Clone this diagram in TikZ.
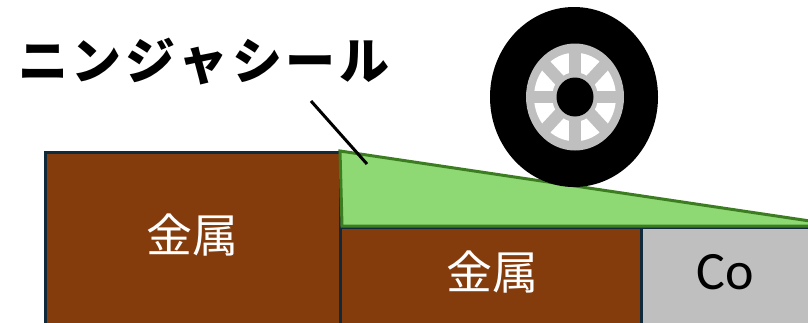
\documentclass[tikz,border=0pt]{standalone}
\usepackage{fontspec}
\newfontfamily\jpfont{Noto Sans CJK JP}
\newfontfamily\cofont{Carlito}
\definecolor{metal}{HTML}{843C0C}
\definecolor{edgenavy}{HTML}{10293B}
\definecolor{sealfill}{HTML}{8ED973}
\definecolor{sealedge}{HTML}{3C7D22}
\definecolor{cobalt}{HTML}{BFBFBF}
\definecolor{rim}{HTML}{BFBFBF}
\tikzset{
  block/.style={draw=edgenavy, line width=3pt},
  metalbox/.style={block, fill=metal},
  lbl/.style={text=white, font=\jpfont\fontsize{46}{50}\selectfont, inner sep=0pt},
  leader/.style={draw=black, line width=3pt},
}
\begin{document}
\begin{tikzpicture}[x=1pt,y=-1pt]
  \useasboundingbox (0,0) rectangle (808,322);

  % base blocks
  \draw[metalbox] (45,152) rectangle (340,340);
  \draw[metalbox] (340,227) rectangle (641,340);
  \draw[block, fill=cobalt] (641,227) rectangle (830,340);

  % block labels
  \node[lbl] (m1) at (192,235) {金属};
  \node[lbl] (m2) at (492,272) {金属};
  \node[inner sep=0pt, font=\cofont\fontsize{54}{58}\selectfont] (co) at (725,272) {Co};

  % ninja seal wedge
  \draw[fill=sealfill, draw=sealedge, line width=3pt, line join=miter]
    (340,151) -- (810,221) -- (810,226) -- (342,226) -- cycle;

  % wheel
  \fill[black] (574,97) ellipse [x radius=84, y radius=90];
  \fill[rim] (575,97) ellipse [x radius=49, y radius=53.5];
  \begin{scope}[shift={(575,97)}, yscale=1.08]
    \fill[white, even odd rule] (0,0) circle [radius=41] (0,0) circle [radius=23];
    \foreach \a in {0,45,...,315}
      \draw[rim, line width=12pt] (0,0) -- (\a:45);
  \end{scope}
  \fill[black] (575,97) ellipse [x radius=18.5, y radius=19.5];

  % title and leader line
  \node[inner sep=0pt, anchor=west, font=\jpfont\bfseries\fontsize{50}{54}\selectfont] (title) at (18,62)
    {ニ\kern3.5ptン\kern3.5ptジ\kern3.5ptャ\kern3.5ptシ\kern3.5ptー\kern3.5ptル};
  \coordinate (lt) at (311,101);
  \coordinate (lb) at (367,164);
  \draw[leader] (lt) -- (lb);
\end{tikzpicture}
\end{document}
